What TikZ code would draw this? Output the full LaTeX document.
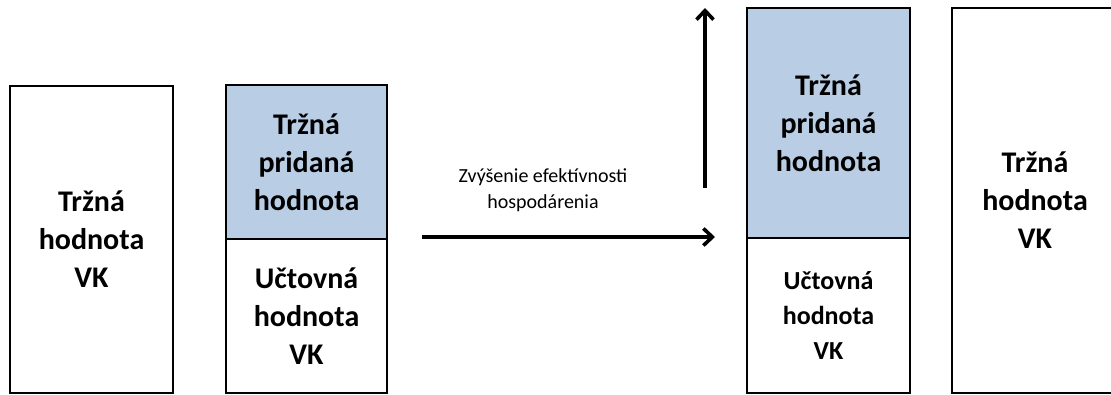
\documentclass[tikz,border=0pt]{standalone}
\usepackage{fontspec}
\setmainfont{Carlito}
\usetikzlibrary{
  arrows.meta,
  positioning
}
\definecolor{paleblue}{HTML}{B9CDE5}
\tikzset{
  box/.style={
    draw=black,
    line width=2.2pt,
    fill=white,
    inner sep=0pt,
    outer sep=0pt,
    minimum width=161pt,
    align=center,
    font=\fontsize{30}{38}\selectfont\bfseries
  },
  marketbox/.style={box, minimum width=163pt, minimum height=307pt},
  addedbox/.style={box, fill=paleblue},
  bookbox/.style={box},
  arrow/.style={-{Straight Barb[length=9pt,width=17pt]}, line width=3.6pt, draw=black},
  note/.style={font=\fontsize{20}{26}\selectfont, align=center}
}

\begin{document}
\begin{tikzpicture}[x=1pt, y=-1pt]
  \useasboundingbox (0,0) rectangle (1111,394);
  \clip (0,0) rectangle (1111,394);

  % before
  \node[marketbox] (market1) at (91.5,239.5) {Tržná\\hodnota\\VK};
  \node[addedbox, minimum height=154pt] (added1) at (306.5,162)
    {Tržná\\pridaná\\hodnota};
  \node[bookbox, minimum height=154pt, below=0pt of added1] (book1)
    {Učtovná\\hodnota\\VK};

  % after
  \node[addedbox, minimum width=163pt, minimum height=230pt] (added2) at (828.5,123)
    {Tržná\\pridaná\\hodnota};
  \node[bookbox, minimum width=163pt, minimum height=155pt, below=0pt of added2,
    font=\fontsize{26}{35}\selectfont\bfseries] (book2)
    {Učtovná\\hodnota\\VK};
  \node[box, minimum width=166pt, minimum height=385pt] (market2) at (1035,200.5)
    {Tržná\\hodnota\\VK};

  \coordinate (effstart) at (422,237);
  \coordinate (effend) at (715,237);
  \coordinate (risebase) at (705,188);
  \coordinate (risetop) at (705,8);

  \draw[arrow] (effstart) -- (effend);
  \draw[arrow] (risebase) -- (risetop);

  \node[note] (efficiency) at (543,190) {Zvýšenie efektívnosti\\hospodárenia};
\end{tikzpicture}
\end{document}
